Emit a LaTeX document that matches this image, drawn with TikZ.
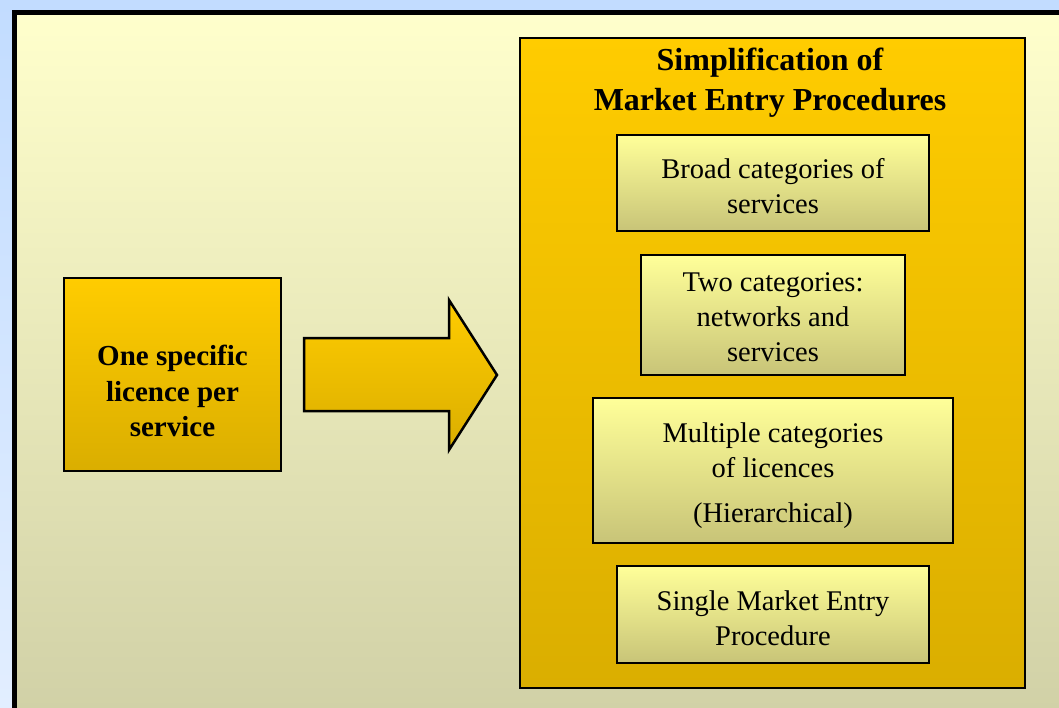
\documentclass[tikz,border=0pt]{standalone}
\usepackage{fontspec}
\setmainfont{Liberation Serif}
\usepackage{tikz}
\definecolor{skyTop}{HTML}{C2DCFF}
\definecolor{skyBot}{HTML}{E2EEFF}
\definecolor{panelTop}{HTML}{FFFFCC}
\definecolor{panelBot}{HTML}{D0D0A6}
\definecolor{goldTop}{HTML}{FFCC00}
\definecolor{goldBot}{HTML}{DAAE00}
\definecolor{catTop}{HTML}{FFFF99}
\definecolor{catBot}{HTML}{C8C478}
\tikzstyle{goldBox}=[draw, line width=2.5pt, top color=goldTop, bottom color=goldBot, inner sep=0pt]
\tikzstyle{catBox}=[draw, line width=2.5pt, top color=catTop, bottom color=catBot, inner sep=0pt]
\tikzstyle{catText}=[align=center, inner sep=0pt, font=\fontsize{28.5}{35}\selectfont]

\begin{document}
\begin{tikzpicture}[x=1pt, y=-1pt]
\clip (0,0) rectangle (1059,708);
\useasboundingbox (0,0) rectangle (1059,708);
% background and frame
\shade[top color=skyTop, bottom color=skyBot] (0,0) rectangle (1059,708);
\draw[line width=5pt, top color=panelTop, bottom color=panelBot] (14.5,12.5) rectangle (1075,725);
% left box
\node[goldBox, minimum width=217pt, minimum height=193pt] (single) at (172.5,374.5) {};
\node[align=center, font=\bfseries\fontsize{29}{35.5}\selectfont] (singleText) at (172.5,391) {One specific\\licence per\\service};
% big arrow
\draw[line width=2.5pt, top color=goldTop, bottom color=goldBot] (304,338) -- (449,338) -- (449,300) -- (497,375) -- (449,450) -- (449,411) -- (304,411) -- cycle;
% right box
\node[goldBox, minimum width=505pt, minimum height=650pt] (simp) at (772.5,363) {};
\node[align=center, font=\bfseries\fontsize{32}{40}\selectfont] (title) at (770,83) {Simplification of\\Market Entry Procedures};
\node[catBox, minimum width=312pt, minimum height=96pt] (broad) at (773,183) {};
\node[catText] at (773,186) {Broad categories of\\services};
\node[catBox, minimum width=264pt, minimum height=120pt] (two) at (773,315) {};
\node[catText] at (773,317) {Two categories:\\networks and\\services};
\node[catBox, minimum width=360pt, minimum height=145pt] (multi) at (773,470.5) {};
\node[catText] at (773,476) {Multiple categories\\of licences\\[10pt](Hierarchical)};
\node[catBox, minimum width=312pt, minimum height=97pt] (entry) at (773,614.5) {};
\node[catText] at (773,618) {Single Market Entry\\Procedure};
\end{tikzpicture}
\end{document}
